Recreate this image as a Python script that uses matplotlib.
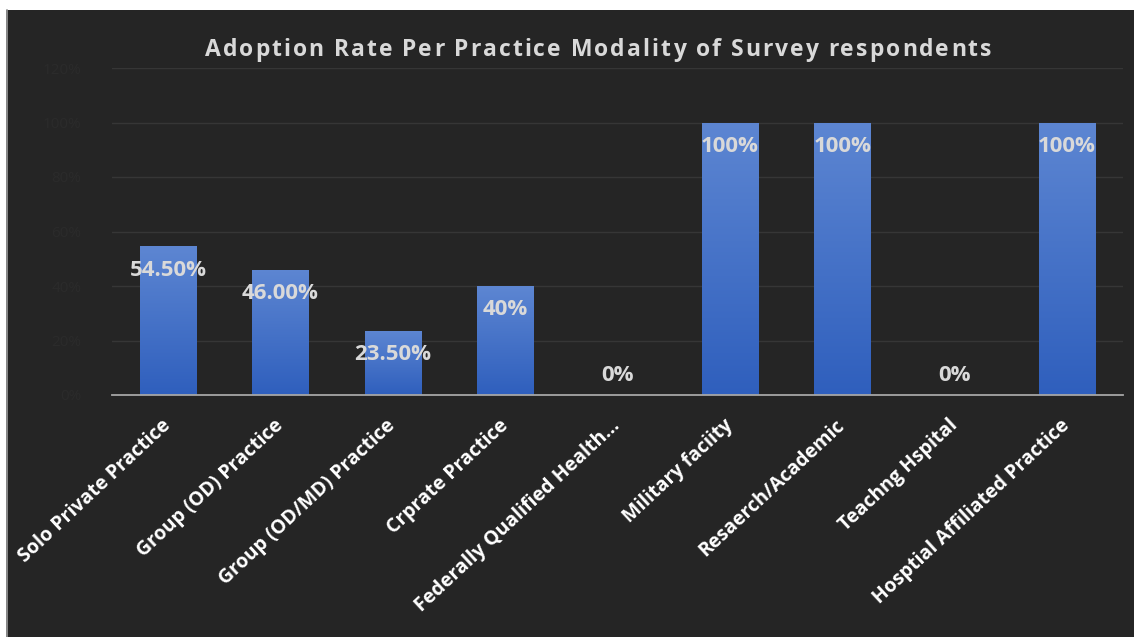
import matplotlib
matplotlib.use("Agg")
import matplotlib.pyplot as plt
import numpy as np
from matplotlib.patches import Rectangle
from matplotlib.font_manager import findfont, FontProperties
from matplotlib.ft2font import FT2Font

categories = [
    "Solo Private Practice",
    "Group (OD) Practice",
    "Group (OD/MD) Practice",
    "Crprate Practice",
    "Federally Qualified Health...",
    "Military faciity",
    "Resaerch/Academic",
    "Teachng Hspital",
    "Hosptial Affiliated Practice",
]
rates = [54.5, 46.0, 23.5, 40, 0, 100, 100, 0, 100]
rate_labels = ["54.50%", "46.00%", "23.50%", "40%", "0%", "100%", "100%", "0%", "100%"]
y_ticks = [0, 20, 40, 60, 80, 100, 120]
title = "Adoption Rate Per Practice Modality of Survey respondents"

BG = "#252525"
TEXT = "#d9d9d9"
FONT = ["Open Sans", "DejaVu Sans"]
DPI = 100

fig = plt.figure(figsize=(11.34, 6.37), dpi=DPI, facecolor="white")

# dark chart panel with a thin light left edge (pixel coordinates)
bg = fig.add_axes([0, 0, 1, 1], zorder=-5)
bg.set_xlim(0, 1134)
bg.set_ylim(637, 0)
bg.axis("off")
bg.add_patch(Rectangle((6, 10), 1128, 627, facecolor=BG, edgecolor="none"))
bg.plot([6.5, 6.5], [10, 637], color="#9a9a9a", lw=1.2)

ax = fig.add_axes([112 / 1134, 242 / 637, 1011 / 1134, 327 / 637])
ax.set_facecolor("none")
x = np.arange(len(categories))

# horizontal gridlines, with barely visible axis labels
ax.set_yticks(y_ticks)
ax.set_yticklabels([f"{t}%" for t in y_ticks], color="#2b2b2b", fontsize=11, family=FONT)
ax.yaxis.grid(True, color="#363636", lw=1)
ax.set_axisbelow(True)
ax.tick_params(axis="y", length=0, pad=22)
ax.tick_params(axis="x", length=0, pad=20)
for s in ["top", "right", "left"]:
    ax.spines[s].set_visible(False)
ax.spines["bottom"].set_color("#a6a6a6")
ax.spines["bottom"].set_linewidth(1.3)
ax.spines["bottom"].set_zorder(5)

# bars with a vertical blue gradient
width = 0.5
grad = np.linspace(0, 1, 256).reshape(-1, 1)
cmap = matplotlib.colors.LinearSegmentedColormap.from_list("blu", ["#2f5fbd", "#5d86d2"])
bars = ax.bar(x, rates, width=width, color="none", edgecolor="none", zorder=2)
for b in bars:
    h = b.get_height()
    if h <= 0:
        continue
    x0 = b.get_x()
    im = ax.imshow(grad, cmap=cmap, aspect="auto", origin="lower",
                   extent=(x0, x0 + b.get_width(), 0, h), zorder=2)
    im.set_clip_path(b)
ax.set_xlim(-0.5, len(categories) - 0.5)
ax.set_ylim(0, 120)

# value labels
for xi, v, lab in zip(x, rates, rate_labels):
    off = -17 if v > 0 else 14
    ax.annotate(lab, (xi, v), xytext=(0, off), textcoords="offset points",
                ha="center", va="center", color=TEXT, fontsize=16,
                fontweight="bold", family=FONT, zorder=6)

ax.set_xticks(x)
ax.set_xticklabels(categories, rotation=43, ha="right", va="center",
                   rotation_mode="anchor", color="white", fontsize=14,
                   fontweight="bold", family=FONT)

# letter-spaced title, placed glyph by glyph
title_size = 16.5
tracking = 2.0  # extra pixels between glyphs
font = FT2Font(findfont(FontProperties(family="Open Sans", weight="bold")))
font.set_size(title_size, DPI)
advances = [font.load_char(ord(c)).linearHoriAdvance / 65536 for c in title]
total = sum(advances) + tracking * (len(title) - 1)
cx = 598 - total / 2
for c, a in zip(title, advances):
    bg.text(cx, 50, c, ha="left", va="center", color=TEXT, fontsize=title_size,
            fontweight="bold", family="Open Sans")
    cx += a + tracking

fig.savefig("out.png", dpi=DPI, facecolor="white")
